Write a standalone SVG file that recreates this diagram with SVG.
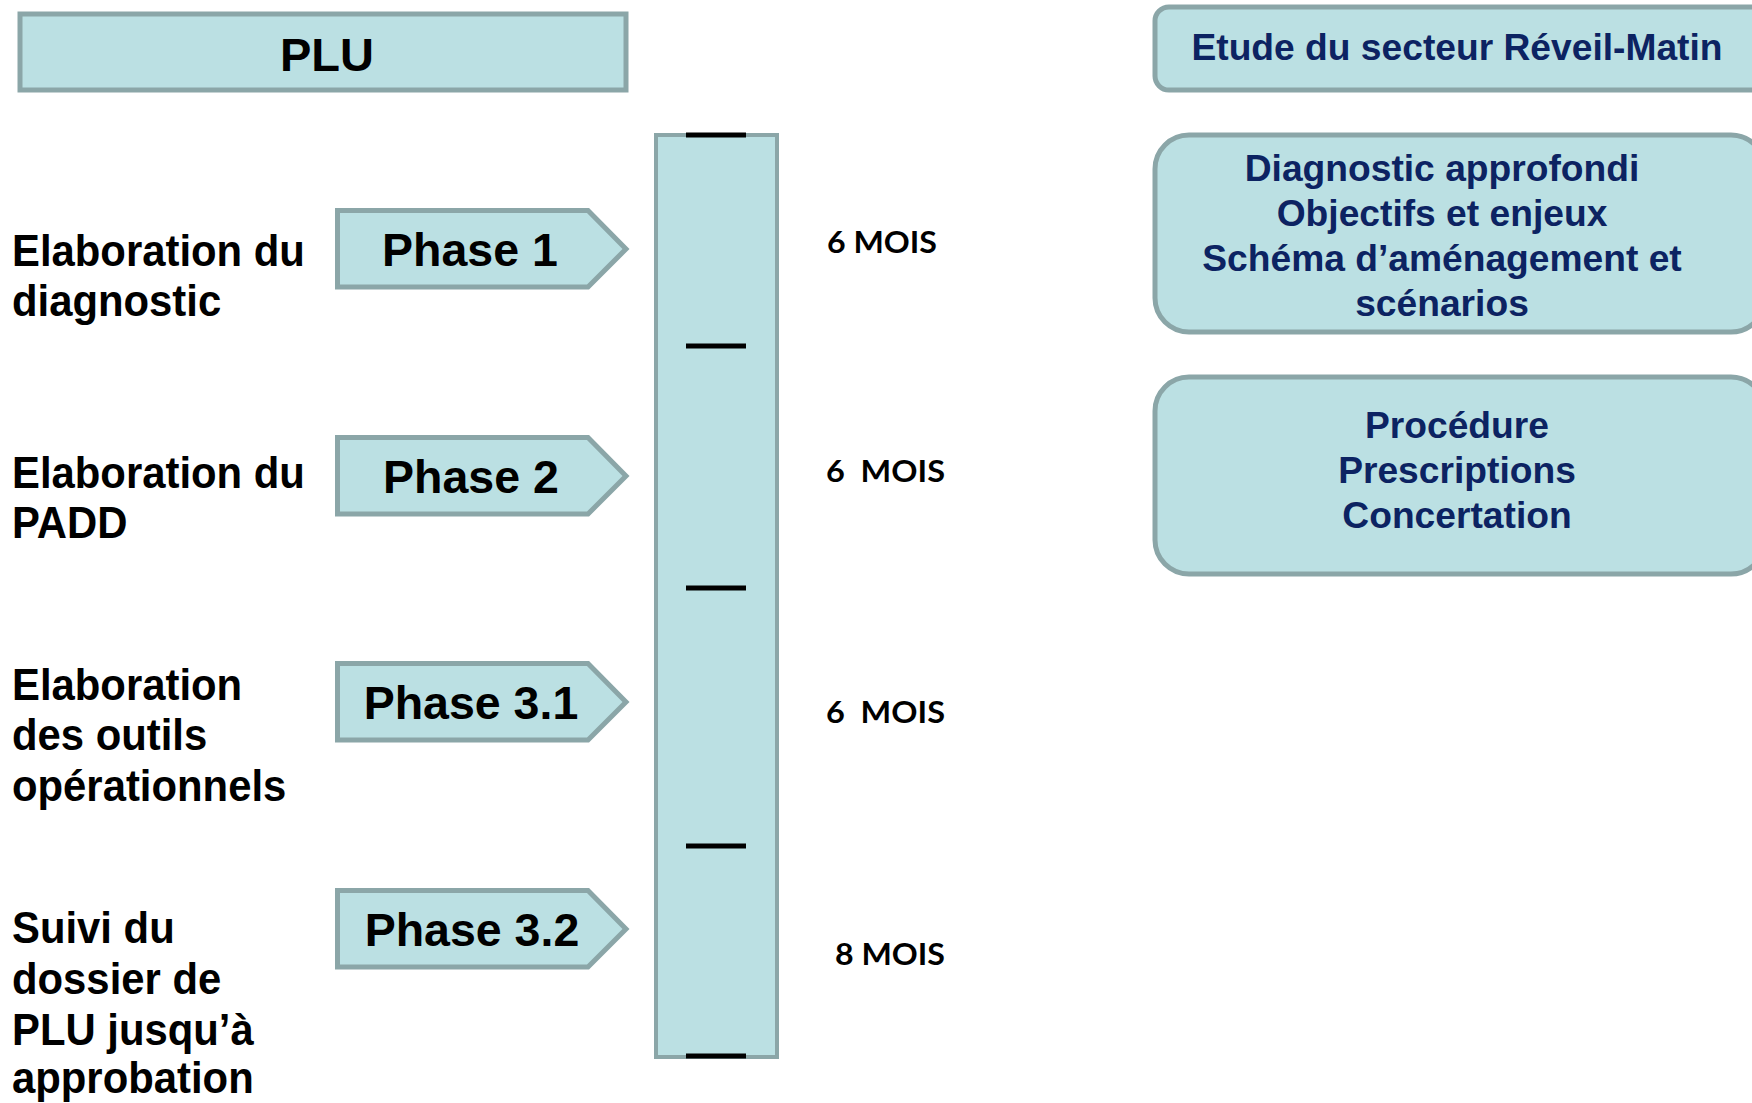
<svg xmlns="http://www.w3.org/2000/svg" width="1752" height="1103" viewBox="0 0 1752 1103">
<style>
.box{fill:#bbe0e3;stroke:#8ba6a8;stroke-width:5}
.bar{fill:#bbe0e3;stroke:#8ba6a8;stroke-width:4}
.tick{stroke:#000;stroke-width:5}
.lbl{font-family:"Liberation Sans",Arial,sans-serif;font-weight:bold;fill:#000}
.ph{font-family:"Liberation Sans",Arial,sans-serif;font-weight:bold;font-size:46.5px;fill:#000;text-anchor:middle}
.mois{font-family:Lato,"Open Sans",sans-serif;font-weight:bold;font-size:31px;fill:#000}
.rt{font-family:"Liberation Sans",Arial,sans-serif;font-weight:bold;font-size:37.2px;fill:#0c2362;text-anchor:middle}
</style>
<rect width="1752" height="1103" fill="#fff"/>

<g id="plu">
<rect class="box" x="20" y="14" width="606" height="76"/>
<text class="lbl" x="327" y="71" font-size="47" text-anchor="middle">PLU</text>
</g>

<g id="timeline">
<rect class="bar" x="656" y="135" width="121" height="922"/>
</g>
<g id="connectors">
<line class="tick" x1="686" y1="135" x2="746" y2="135"/>
<line class="tick" x1="686" y1="346" x2="746" y2="346"/>
<line class="tick" x1="686" y1="588" x2="746" y2="588"/>
<line class="tick" x1="686" y1="846" x2="746" y2="846"/>
<line class="tick" x1="686" y1="1056" x2="746" y2="1056"/>
</g>

<g id="label1"><text class="lbl" font-size="45" transform="translate(12,266) scale(0.93,1)"><tspan x="0" y="0">Elaboration du</tspan><tspan x="0" y="50.5">diagnostic</tspan></text></g>
<g id="label2"><text class="lbl" font-size="45" transform="translate(12,488) scale(0.93,1)"><tspan x="0" y="0">Elaboration du</tspan><tspan x="0" y="50.5">PADD</tspan></text></g>
<g id="label3"><text class="lbl" font-size="45" transform="translate(12,700) scale(0.93,1)"><tspan x="0" y="0">Elaboration</tspan><tspan x="0" y="50.5">des outils</tspan><tspan x="0" y="101">opérationnels</tspan></text></g>
<g id="label4"><text class="lbl" font-size="45" transform="translate(12,943) scale(0.93,1)"><tspan x="0" y="0">Suivi du</tspan><tspan x="0" y="51">dossier de</tspan><tspan x="0" y="102">PLU jusqu’à</tspan><tspan x="0" y="150.5">approbation</tspan></text></g>

<g id="phase1"><path class="box" d="M337.5 210.5 H588 L626 249 L588 287 H337.5 Z"/><text class="ph" x="470" y="266">Phase 1</text></g>
<g id="phase2"><path class="box" d="M337.5 437.5 H588 L626 476 L588 514 H337.5 Z"/><text class="ph" x="471" y="493">Phase 2</text></g>
<g id="phase31"><path class="box" d="M337.5 663.5 H588 L626 702 L588 740 H337.5 Z"/><text class="ph" x="471" y="719">Phase 3.1</text></g>
<g id="phase32"><path class="box" d="M337.5 890.5 H588 L626 929 L588 967 H337.5 Z"/><text class="ph" x="472" y="946">Phase 3.2</text></g>

<g id="mois1"><text class="mois" x="827" y="253" textLength="110" lengthAdjust="spacingAndGlyphs">6 MOIS</text></g>
<g id="mois2"><text class="mois" x="826" y="482" textLength="119" lengthAdjust="spacingAndGlyphs" xml:space="preserve">6  MOIS</text></g>
<g id="mois3"><text class="mois" x="826" y="723" textLength="119" lengthAdjust="spacingAndGlyphs" xml:space="preserve">6  MOIS</text></g>
<g id="mois4"><text class="mois" x="835" y="965" textLength="110" lengthAdjust="spacingAndGlyphs">8 MOIS</text></g>

<g id="etude"><rect class="box" x="1155" y="7" width="610" height="83" rx="14"/><text class="rt" x="1457" y="60" font-size="36.2">Etude du secteur Réveil-Matin</text></g>
<g id="diag"><rect class="box" x="1155" y="135" width="610" height="197" rx="34"/><text class="rt"><tspan x="1442" y="181">Diagnostic approfondi</tspan><tspan x="1442" y="226">Objectifs et enjeux</tspan><tspan x="1442" y="271">Schéma d’aménagement et</tspan><tspan x="1442" y="316">scénarios</tspan></text></g>
<g id="proc"><rect class="box" x="1155" y="377" width="610" height="197" rx="34"/><text class="rt"><tspan x="1457" y="438">Procédure</tspan><tspan x="1457" y="483">Prescriptions</tspan><tspan x="1457" y="528">Concertation</tspan></text></g>
</svg>
